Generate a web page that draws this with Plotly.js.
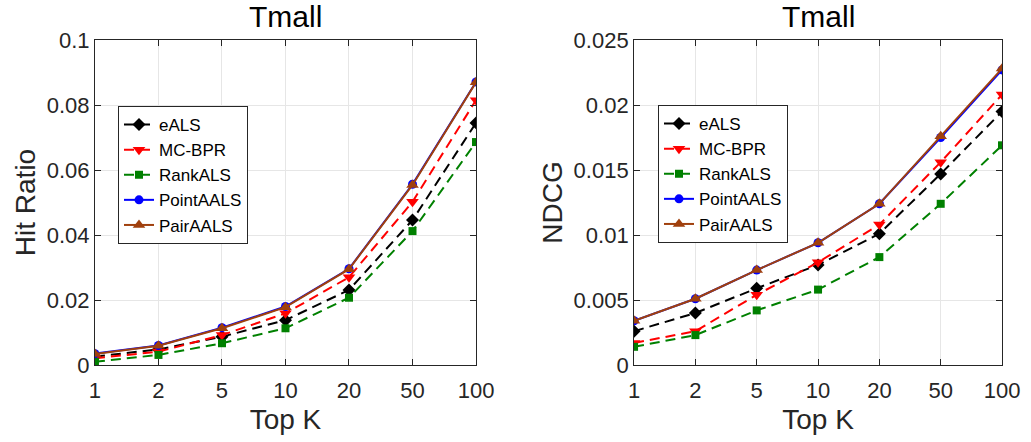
<!DOCTYPE html>
<html><head><meta charset="utf-8">
<script src="https://cdn.plot.ly/plotly-3.0.1.min.js"></script>
<style>html,body{margin:0;padding:0;background:#fff}#chart{width:1031px;height:442px}</style>
</head><body><div id="chart"></div>
<script>
const topK = ['1','2','5','10','20','50','100'];
const seriesNames = ['eALS','MC-BPR','RankALS','PointAALS','PairAALS'];
// Hit Ratio (left)
const hrEALS   = [0.0026,0.0048,0.0087,0.0138,0.0231,0.0446,0.0745];
const hrMCBPR  = [0.0021,0.0041,0.0092,0.0159,0.0270,0.0502,0.0815];
const hrRank   = [0.0010,0.0031,0.0067,0.0113,0.0207,0.0412,0.0686];
const hrPoint  = [0.0035,0.0060,0.0115,0.0180,0.0296,0.0556,0.0871];
const hrPair   = [0.0034,0.0059,0.0113,0.0178,0.0295,0.0554,0.0870];
// NDCG (right)
const ndEALS   = [0.0026,0.0040,0.0059,0.0077,0.0101,0.0147,0.0195];
const ndMCBPR  = [0.0017,0.0026,0.0054,0.0079,0.0108,0.0156,0.0208];
const ndRank   = [0.0014,0.0023,0.0042,0.0058,0.0083,0.0124,0.0169];
const ndPoint  = [0.0034,0.0051,0.0073,0.0094,0.0124,0.0175,0.0227];
const ndPair   = [0.0034,0.0051,0.0073,0.0094,0.0124,0.0176,0.0228];

const styles = [
  {color:'#000000', symbol:'diamond', dash:'10px,6px', size:10},
  {color:'#ff0000', symbol:'triangle-down', dash:'10px,6px', size:11},
  {color:'#008000', symbol:'square', dash:'10px,6px', size:8},
  {color:'#0000ff', symbol:'circle', dash:'solid', size:9},
  {color:'#a0400d', symbol:'triangle-up', dash:'solid', size:11}
];
const left = [hrEALS,hrMCBPR,hrRank,hrPoint,hrPair];
const right = [ndEALS,ndMCBPR,ndRank,ndPoint,ndPair];
const traces = [];
function add(vals, xa, ya, lg){
  vals.forEach((v,i)=>{
    const s = styles[i];
    traces.push({x:topK, y:v, xaxis:xa, yaxis:ya, legend:lg, name:seriesNames[i],
      type:'scatter', mode:'lines+markers',
      line:{color:s.color, width:2, dash:s.dash},
      marker:{color:s.color, symbol:s.symbol, size:s.size, line:{width:0}}});
  });
}
add(left,'x','y','legend');
add(right,'x2','y2','legend2');

const fam = 'Liberation Sans, Arial, sans-serif';
const font = {family:fam, color:'#262626', size:22};
const axBase = {showline:true, linecolor:'#262626', linewidth:1, mirror:'ticks', ticks:'inside', ticklen:6,
  tickcolor:'#262626', showgrid:true, gridcolor:'#e6e6e6', gridwidth:1, zeroline:false, tickfont:font};
const xBase = Object.assign({}, axBase, {type:'category', range:[0,6], categoryorder:'array', categoryarray:topK,
  ticklabelstandoff:6,
  title:{text:'Top K', font:{family:fam, size:28, color:'#262626'}, standoff:6}});
const layout = {
  width:1031, height:442, paper_bgcolor:'#fff', plot_bgcolor:'#fff',
  margin:{l:0,r:0,t:0,b:0}, font:font, showlegend:true,
  xaxis: Object.assign({}, xBase, {domain:[0.0921,0.4617], anchor:'y'}),
  xaxis2: Object.assign({}, xBase, {domain:[0.615,0.9719], anchor:'y2'}),
  yaxis: Object.assign({}, axBase, {domain:[0.1742,0.9095], anchor:'x', range:[0,0.1], dtick:0.02,
    title:{text:'Hit Ratio', font:{family:fam, size:28, color:'#262626'}, standoff:2}}),
  yaxis2: Object.assign({}, axBase, {domain:[0.1742,0.9095], anchor:'x2', range:[0,0.025], dtick:0.005,
    title:{text:'NDCG', font:{family:fam, size:28, color:'#262626'}, standoff:2}}),
  legend:{x:118/1031, y:1-106/442, xanchor:'left', yanchor:'top', bgcolor:'#fff', bordercolor:'#262626', borderwidth:1,
    font:{family:fam, size:17, color:'#000'}, tracegroupgap:0, itemwidth:30},
  legend2:{x:658/1031, y:1-105/442, xanchor:'left', yanchor:'top', bgcolor:'#fff', bordercolor:'#262626', borderwidth:1,
    font:{family:fam, size:17, color:'#000'}, tracegroupgap:0, itemwidth:30},
  annotations:[
    {text:'Tmall', x:(0.0921+0.4617)/2, y:1-17/442, xref:'paper', yref:'paper', showarrow:false, xanchor:'center', yanchor:'middle', font:{family:fam, size:30, color:'#000'}},
    {text:'Tmall', x:(0.615+0.9719)/2, y:1-17/442, xref:'paper', yref:'paper', showarrow:false, xanchor:'center', yanchor:'middle', font:{family:fam, size:30, color:'#000'}}
  ]
};
Plotly.newPlot('chart', traces, layout, {displayModeBar:false, staticPlot:true});
</script></body></html>
